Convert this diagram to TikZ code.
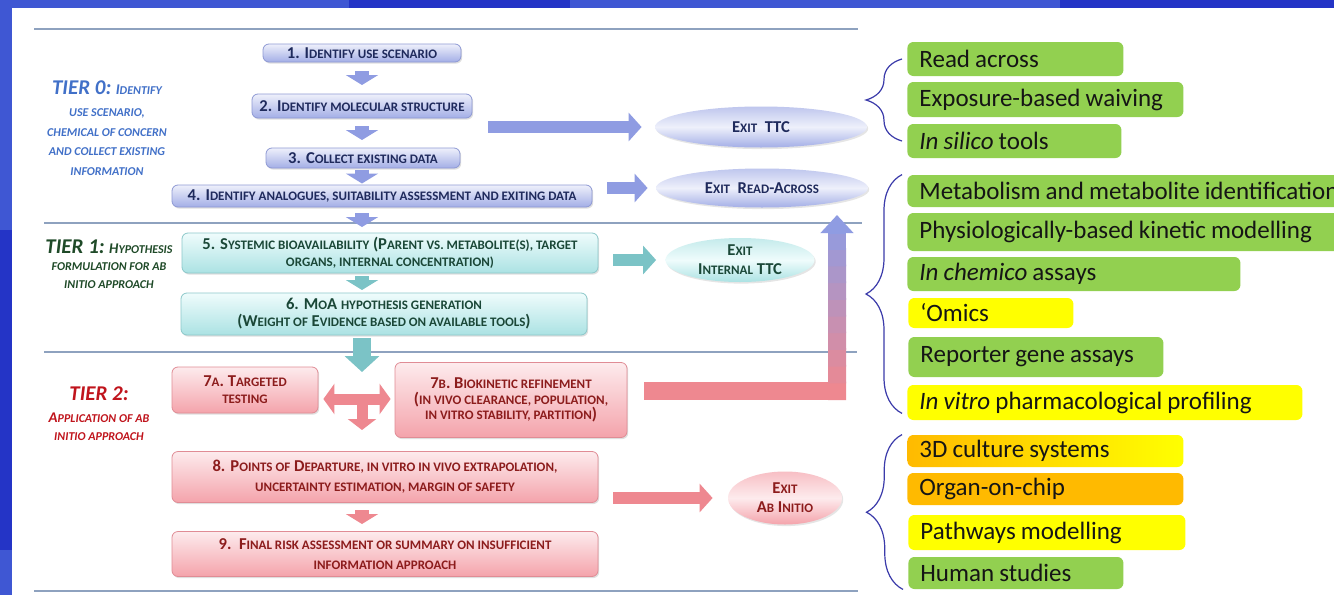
\documentclass[tikz,border=0pt]{standalone}
\usepackage{fontspec}
\setmainfont{Carlito}
\newfontfamily\listfam[WordSpace=0.9]{Carlito}
\usetikzlibrary{arrows.meta,calc,shapes.geometric,shadows,decorations.pathreplacing}

\definecolor{bgblue}{HTML}{3F57D3}
\definecolor{bgdark}{HTML}{2434C6}
\definecolor{rulecol}{HTML}{8EA2BF}
\definecolor{zerotop}{HTML}{EEF0FB}
\definecolor{zerobot}{HTML}{A3AEE6}
\definecolor{zeroedge}{HTML}{8E99D4}
\definecolor{zerotext}{HTML}{1F2A5C}
\definecolor{onetop}{HTML}{EFFCFC}
\definecolor{onebot}{HTML}{ABE2E3}
\definecolor{oneedge}{HTML}{8CC8CA}
\definecolor{onetext}{HTML}{1A4737}
\definecolor{twotop}{HTML}{FDEBED}
\definecolor{twobot}{HTML}{F4A3AB}
\definecolor{twoedge}{HTML}{E08C95}
\definecolor{twotext}{HTML}{8C1C1C}
\definecolor{zeroarrow}{HTML}{8F9CE2}
\definecolor{onearrow}{HTML}{7BC3C6}
\definecolor{twoarrow}{HTML}{EE8890}
\definecolor{tzero}{HTML}{4170C8}
\definecolor{tone}{HTML}{1F4A28}
\definecolor{ttwo}{HTML}{C0141C}
\definecolor{listgreen}{HTML}{92D050}
\definecolor{listyellow}{HTML}{FFFF00}
\definecolor{listorange}{HTML}{FFBA00}
\definecolor{listtext}{HTML}{151515}
\definecolor{bracecol}{HTML}{3B3BAA}

\newcommand{\sm}[1]{{\fontsize{6.5}{7}\selectfont #1}}
\newcommand{\tsm}[1]{{\fontsize{6}{7}\selectfont #1}}
\newcommand{\tierbig}[1]{{\fontsize{10.5}{12}\selectfont #1}}

\tikzset{
    flowbox/.style={rounded corners=3pt, align=flush center, inner sep=1pt,
        font=\fontsize{8.3}{8.5}\selectfont\bfseries,
        drop shadow={opacity=0.25, shadow xshift=0.6pt, shadow yshift=-0.8pt}},
    zerobox/.style={flowbox, draw=zeroedge, top color=zerotop, bottom color=zerobot, text=zerotext},
    onebox/.style={flowbox, draw=oneedge, top color=onetop, bottom color=onebot, text=onetext},
    twobox/.style={flowbox, draw=twoedge, top color=twotop, bottom color=twobot, text=twotext},
    exitbase/.style={ellipse, inner sep=0pt, align=flush center,
        font=\fontsize{8.3}{9.5}\selectfont\bfseries,
        drop shadow={opacity=0.2, shadow xshift=0.6pt, shadow yshift=-0.8pt}},
    exitzero/.style={exitbase, top color=zerobot!70!white, bottom color=zerobot, middle color=zerotop, text=zerotext},
    exitone/.style={exitbase, top color=onebot!70!white, bottom color=onebot, middle color=onetop, text=onetext},
    exittwo/.style={exitbase, top color=twobot!70!white, bottom color=twobot, middle color=twotop, text=twotext},
    lbox/.style={rounded corners=3pt, anchor=west, align=flush left, inner xsep=6pt, inner ysep=0pt,
        font=\listfam\fontsize{12.5}{14}\selectfont, text=listtext},
    tierlabel/.style={align=flush center, font=\fontsize{7.4}{9.8}\selectfont\bfseries\itshape},
    rule/.style={draw=rulecol, line width=1.2pt},
    brc/.style={draw=bracecol, line width=0.6pt, decorate, decoration={brace, amplitude=18pt}},
    dnarr/.style={line width=7pt, draw=#1, -{Triangle[length=5pt,width=16pt]}},
    bigdn/.style={line width=9pt, draw=#1, -{Triangle[length=8pt,width=17pt]}},
    rarr/.style={line width=6pt, draw=#1, -{Triangle[length=6.5pt,width=14pt]}},
    tarr/.style={line width=5.5pt, draw=twoarrow}
}

\begin{document}
\begin{tikzpicture}[x=0.5pt, y=-0.5pt]
        \useasboundingbox (0, 0) rectangle (1334, 595);
        \fill[bgblue] (0, 0) rectangle (1334, 595);
        \fill[bgdark] (349, 0) rectangle (570, 8);
        \fill[bgdark] (1060, 0) rectangle (1334, 8);
        \fill[bgdark] (0, 230) rectangle (12, 550);
        \fill[white] (12, 8) rectangle (1334, 595);

        \draw[rule] (34, 29) -- (858, 29);
        \draw[rule] (44, 223) -- (862, 223);
        \draw[rule] (44, 352) -- (857, 352);
        \draw[rule] (34, 591) -- (858, 591);

        \node[tierlabel, text=tzero] (tier0) at (107, 128) {\tierbig{TIER 0:} I\tsm{DENTIFY}\\[1.5pt]
            \tsm{USE SCENARIO,}\\\tsm{CHEMICAL OF CONCERN}\\\tsm{AND COLLECT EXISTING}\\\tsm{INFORMATION}};
        \node[tierlabel, text=tone, font=\fontsize{7.4}{8.8}\selectfont\bfseries\itshape] (tier1) at (109, 264)
            {\tierbig{TIER 1:} H\tsm{YPOTHESIS}\\\tsm{FORMULATION FOR AB}\\\tsm{INITIO APPROACH}};
        \node[tierlabel, text=ttwo, font=\fontsize{7.4}{9}\selectfont\bfseries\itshape] (tier2) at (99, 414)
            {\tierbig{TIER 2:}\\[2pt]A\tsm{PPLICATION OF AB}\\\tsm{INITIO APPROACH}};

        \node[zerobox, minimum width=99pt, minimum height=9pt] (b1) at (362, 53) {1. I\sm{DENTIFY USE SCENARIO}};
        \node[zerobox, minimum width=110pt, minimum height=12pt] (b2) at (362, 106) {2. I\sm{DENTIFY MOLECULAR STRUCTURE}};
        \node[zerobox, minimum width=97pt, minimum height=10pt] (b3) at (363, 158) {3. C\sm{OLLECT EXISTING DATA}};
        \node[zerobox, minimum width=210pt, minimum height=11pt] (b4) at (382, 196)
            {4. I\sm{DENTIFY ANALOGUES, SUITABILITY ASSESSMENT AND EXITING DATA}};
        \node[onebox, minimum width=208pt, minimum height=20pt] (b5) at (390, 253)
            {5. S\sm{YSTEMIC BIOAVAILABILITY} (P\sm{ARENT VS. METABOLITE(S), TARGET}\\\sm{ORGANS, INTERNAL CONCENTRATION)}};
        \node[onebox, minimum width=203pt, minimum height=21pt] (b6) at (384, 314)
            {6. M\sm{O}A \sm{HYPOTHESIS GENERATION}\\(W\sm{EIGHT OF} E\sm{VIDENCE BASED ON AVAILABLE TOOLS})};
        \node[twobox, minimum width=73pt, minimum height=23pt] (b7a) at (245, 390) {7\sm{A}. T\sm{ARGETED}\\\sm{TESTING}};
        \node[twobox, minimum width=116pt, minimum height=37.5pt, font=\fontsize{8.3}{7.6}\selectfont\bfseries] (b7b) at (511, 400)
            {7\sm{B}. B\sm{IOKINETIC REFINEMENT}\\(\sm{IN VIVO CLEARANCE, POPULATION,}\\\sm{IN VITRO STABILITY, PARTITION})};
        \node[twobox, minimum width=213pt, minimum height=25.5pt, font=\fontsize{8.3}{10}\selectfont\bfseries] (b8) at (385, 477)
            {8. P\sm{OINTS OF} D\sm{EPARTURE, IN VITRO IN VIVO EXTRAPOLATION,}\\\sm{UNCERTAINTY ESTIMATION, MARGIN OF SAFETY}};
        \node[twobox, minimum width=213pt, minimum height=22.5pt, font=\fontsize{8.3}{10}\selectfont\bfseries] (b9) at (385, 554)
            {9.\ \ F\sm{INAL RISK ASSESSMENT OR SUMMARY ON INSUFFICIENT}\\\sm{INFORMATION APPROACH}};

        \node[exitzero, minimum width=106pt, minimum height=20.5pt] (ttc) at (761, 127) {E\sm{XIT}\ \ TTC};
        \node[exitzero, minimum width=106pt, minimum height=19.5pt] (ra) at (762, 188) {E\sm{XIT}\ \ R\sm{EAD}-A\sm{CROSS}};
        \node[exitone, minimum width=74.5pt, minimum height=22pt] (itc) at (740, 260) {E\sm{XIT}\\I\sm{NTERNAL} TTC};
        \node[exittwo, minimum width=57pt, minimum height=26.5pt] (ab) at (785, 498) {E\sm{XIT}\\A\sm{B} I\sm{NITIO}};

        \coordinate (axis) at (362, 0);
        \foreach \u/\v in {b1/b2, b2/b3, b3/b4, b4/b5}{
            \draw[dnarr=zeroarrow] ($(\u.south -| axis)!.5!(\v.north -| axis)+(0,-7)$) -- ++(0, 14);
        };
        \draw[dnarr=onearrow] ($(b5.south -| axis)!.5!(b6.north -| axis)+(0,-7)$) -- ++(0, 14);
        \draw[dnarr=twoarrow] ($(b8.south -| axis)!.5!(b9.north -| axis)+(0,-7)$) -- ++(0, 14);

        \coordinate (tbar) at (362, 399);
        \coordinate (tfoot) at (362, 430);
        \draw[bigdn=onearrow, shorten <=1.5pt] (b6.south -| axis) -- ([yshift=13.5pt]tbar);
        \draw[tarr, {Triangle[length=5.5pt,width=15pt]}-{Triangle[length=5.5pt,width=15pt]}, shorten <=2.5pt, shorten >=2pt]
            (b7a.east |- tbar) -- (b7b.west |- tbar);
        \draw[tarr, -{Triangle[length=5.5pt,width=14pt]}] (tbar) -- (tfoot);

        \draw[rarr=zeroarrow, shorten <=8pt, shorten >=6.5pt] (b2.east |- ttc.west) -- (ttc.west);
        \draw[rarr=zeroarrow, shorten <=7.5pt, shorten >=4pt] (b4.east |- ra.west) -- (ra.west);
        \draw[rarr=onearrow, shorten <=7.5pt, shorten >=4.5pt] (b5.east |- itc.west) -- (itc.west);
        \draw[rarr=twoarrow, shorten <=7.5pt, shorten >=7.5pt] (b8.east |- ab.west) -- (ab.west);

        \coordinate (lturn) at (837, 391);
        \coordinate (ltip) at (837, 215);
        \draw[line width=9pt, draw=twoarrow] ([xshift=8.5pt]b7b.east |- lturn) -- ([xshift=4.5pt]lturn);
        \foreach \i in {0,...,9}{
            \pgfmathtruncatemacro{\p}{100-10*\i}
            \draw[line width=9pt, draw=twoarrow!\p!zeroarrow]
                ($([yshift=-4.5pt]lturn)!{\i/10}!([yshift=-9pt]ltip)$) -- ($([yshift=-4.5pt]lturn)!{(\i+1.1)/10}!([yshift=-9pt]ltip)$);
        };
        \draw[line width=9pt, draw=zeroarrow, -{Triangle[length=9pt,width=16pt]}] ([yshift=-9.5pt]ltip) -- (ltip);

        \node[lbox, fill=listgreen, text width=96pt, minimum height=17pt] (readac) at (907, 59) {Read across};
        \node[lbox, fill=listgreen, text width=126pt, minimum height=17.5pt] (expo) at (907, 99.5) {Exposure-based waiving};
        \node[lbox, fill=listgreen, text width=95pt, minimum height=17pt] (insil) at (907, 141) {\textit{In silico} tools};
        \node[lbox, fill=listgreen, text width=232pt, minimum height=16pt] (metab) at (907, 191) {Metabolism and metabolite identification};
        \node[lbox, fill=listgreen, text width=212pt, minimum height=19pt] (pbk) at (907, 232) {Physiologically-based kinetic modelling};
        \node[lbox, fill=listgreen, text width=154.5pt, minimum height=17pt] (chem) at (907, 274) {\textit{In chemico} assays};
        \node[lbox, fill=listyellow, text width=70.5pt, minimum height=15pt] (omics) at (908, 313) {‘Omics};
        \node[lbox, fill=listgreen, text width=115.5pt, minimum height=20pt] (report) at (908, 357) {Reporter gene assays};
        \node[lbox, fill=listyellow, text width=185.5pt, minimum height=17.5pt] (vitro) at (907, 402.5) {\textit{In vitro} pharmacological profiling};
        \node[lbox, left color=listorange, right color=listyellow, text width=126pt, minimum height=16pt] (cult3d) at (907, 451) {3D culture systems};
        \node[lbox, fill=listorange, text width=126pt, minimum height=16pt] (organ) at (907, 489) {Organ-on-chip};
        \node[lbox, fill=listyellow, text width=126.5pt, minimum height=17.5pt] (pathw) at (908, 532.5) {Pathways modelling};
        \node[lbox, fill=listgreen, text width=95.5pt, minimum height=16pt] (human) at (908, 573) {Human studies};

        \draw[brc] ([xshift=-2.5pt]insil.west) -- ([xshift=-2.5pt]readac.west);
        \draw[brc] ([xshift=-2.5pt, yshift=3.5pt]vitro.south west) -- ([xshift=-2.5pt]metab.north west);
        \draw[brc] ([xshift=-2.5pt]human.south west) -- ([xshift=-2.5pt]cult3d.north west);
\end{tikzpicture}
\end{document}
